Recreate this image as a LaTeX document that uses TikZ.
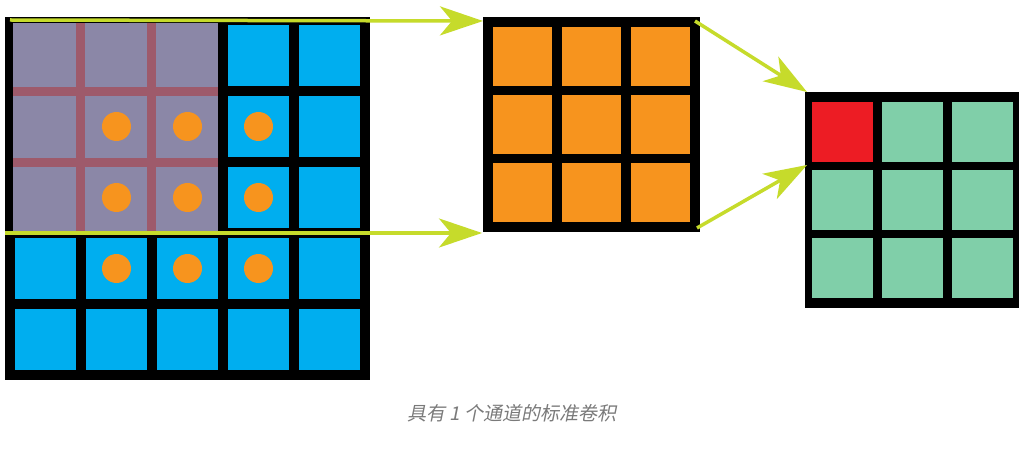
\documentclass[tikz,border=0pt]{standalone}
\usepackage{fontspec}
\newfontfamily\cjkfont[FakeSlant=0.2]{Noto Sans CJK SC}
\usetikzlibrary{arrows.meta}
\definecolor{cellblue}{HTML}{00AEEF}
\definecolor{overlaypurple}{HTML}{8B87A7}
\definecolor{overlaybrown}{HTML}{9E5A6B}
\definecolor{kernelorange}{HTML}{F7941E}
\definecolor{outgreen}{HTML}{80CFA9}
\definecolor{outred}{HTML}{ED1C24}
\definecolor{arrowgreen}{HTML}{C6DB2B}
\definecolor{captiongray}{HTML}{7A7A7A}
\begin{document}
\begin{tikzpicture}[x=1pt,y=-1pt,
  gridbox/.style={fill=black, inner sep=0pt, anchor=north west},
  garrow/.style={draw=arrowgreen, line width=3.5pt, -{Stealth[length=43pt, width=29pt, inset=12pt]}},
  captext/.style={text=captiongray, font=\cjkfont\fontsize{19}{22}\selectfont}]
\fill[white] (0,0) rectangle (1028,449);
\useasboundingbox (0,0) rectangle (1028,449);

% input 5x5 grid
\node[gridbox, minimum width=365pt, minimum height=363pt] (big) at (5,17) {};
\foreach \i in {0,...,4}
  \foreach \j in {0,...,4}
    \fill[cellblue] ({15+71*\i},{25+71*\j}) rectangle ++(61,61);
% highlighted 3x3 window
\fill[overlaypurple] (13,23) rectangle (218,231);
\fill[overlaybrown] (76,23) rectangle (85,231);
\fill[overlaybrown] (147,23) rectangle (156,231);
\fill[overlaybrown] (13,87) rectangle (218,96);
\fill[overlaybrown] (13,158) rectangle (218,167);
% dots
\foreach \i in {1,2,3}
  \foreach \j in {1,2,3}
    \fill[kernelorange] ({45.5+71*\i},{55.5+71*\j}) circle (14.5pt);

% kernel 3x3
\node[gridbox, minimum width=217pt, minimum height=215pt] (mid) at (483,17) {};
\foreach \i in {0,...,2}
  \foreach \j in {0,...,2}
    \fill[kernelorange] ({493+69*\i},{27+68*\j}) rectangle ++(59,59);

% output 3x3
\node[gridbox, minimum width=214pt, minimum height=216pt] (out) at (805,92) {};
\foreach \i in {0,...,2}
  \foreach \j in {0,...,2}
    \fill[outgreen] ({812+70*\i},{102+68*\j}) rectangle ++(61,60);
\fill[outred] (812,102) rectangle ++(61,60);

% connectors
\coordinate (a1s) at (10,20);
\coordinate (a1e) at (483,21);
\coordinate (a2s) at (5,233);
\coordinate (a2e) at (482,233);
\coordinate (a3s) at (695,21);
\coordinate (a3e) at (807,92);
\coordinate (a4s) at (697,228);
\coordinate (a4e) at (807,165);
\draw[garrow] (a1s) -- (a1e);
\draw[garrow] (a2s) -- (a2e);
\draw[garrow] (a3s) -- (a3e);
\draw[garrow] (a4s) -- (a4e);

\node[captext] (cap) at (512,413) {具有 1 个通道的标准卷积};
\end{tikzpicture}
\end{document}
